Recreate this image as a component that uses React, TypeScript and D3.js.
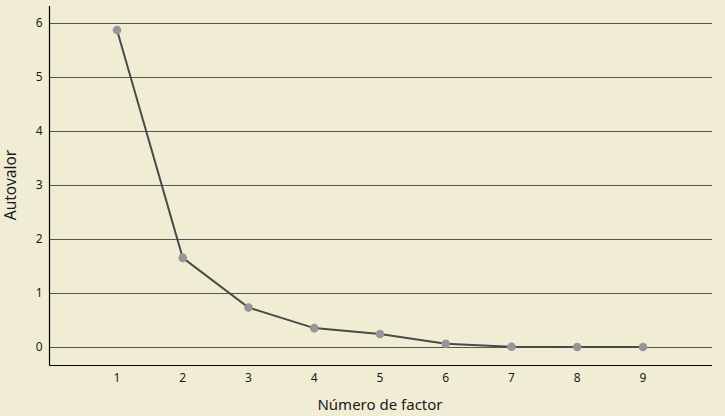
import React, { useEffect, useRef } from "react";
import * as d3 from "d3";

const factors = [1, 2, 3, 4, 5, 6, 7, 8, 9];
const eigenvalues = [5.87, 1.65, 0.73, 0.35, 0.24, 0.06, 0.005, 0.0, 0.0];
const yTicks = [0, 1, 2, 3, 4, 5, 6];
const xTitle = "Número de factor";
const yTitle = "Autovalor";

const W = 725;
const H = 416;

export default function App() {
  const ref = useRef<SVGSVGElement | null>(null);
  useEffect(() => {
    document.body.style.margin = "0";
    const svg = d3.select(ref.current);
    svg.selectAll("*").remove();
    const left = 49.5, right = 712, bottom = 365.5, top = 6;
    const x = d3.scaleLinear().domain([1, 9]).range([117, 643]);
    const y = d3.scaleLinear().domain([0, 6]).range([347, 23]);
    const font = "'Noto Sans', 'Open Sans', sans-serif";

    svg.append("rect").attr("width", W).attr("height", H).attr("fill", "#f1edd5");

    // gridlines
    svg.append("g").selectAll("line").data(yTicks).join("line")
      .attr("x1", left).attr("x2", right)
      .attr("y1", d => Math.round(y(d)) + 0.5).attr("y2", d => Math.round(y(d)) + 0.5)
      .attr("stroke", "#55554f").attr("stroke-width", 1);

    // axes
    svg.append("line").attr("x1", left).attr("x2", left).attr("y1", top).attr("y2", bottom)
      .attr("stroke", "#000").attr("stroke-width", 1.2);
    svg.append("line").attr("x1", left).attr("x2", right).attr("y1", bottom).attr("y2", bottom)
      .attr("stroke", "#000").attr("stroke-width", 1.2);

    // y tick labels
    svg.append("g").selectAll("text").data(yTicks).join("text")
      .attr("x", 42.5).attr("y", d => y(d)).attr("dy", "0.35em")
      .attr("text-anchor", "end").attr("font-family", font).attr("font-size", 12)
      .attr("fill", "#1a1a1a").text(d => d);

    // x tick labels
    svg.append("g").selectAll("text").data(factors).join("text")
      .attr("x", d => x(d)).attr("y", 378).attr("dy", "0.35em")
      .attr("text-anchor", "middle").attr("font-family", font).attr("font-size", 12)
      .attr("fill", "#1a1a1a").text(d => d);

    // line
    const line = d3.line<number>().x((d, i) => x(factors[i])).y(d => y(d));
    svg.append("path").datum(eigenvalues).attr("d", line)
      .attr("fill", "none").attr("stroke", "#4a4a48").attr("stroke-width", 2);

    // dots
    svg.append("g").selectAll("circle").data(eigenvalues).join("circle")
      .attr("cx", (d, i) => x(factors[i])).attr("cy", d => y(d)).attr("r", 4.3)
      .attr("fill", "#96969a");

    // titles
    svg.append("text").attr("x", 380).attr("y", 405).attr("dy", "0.35em")
      .attr("text-anchor", "middle").attr("font-family", font).attr("font-size", 15)
      .attr("fill", "#1a1a1a").text(xTitle);
    svg.append("text").attr("transform", "translate(11,185) rotate(-90)").attr("dy", "0.35em")
      .attr("text-anchor", "middle").attr("font-family", font).attr("font-size", 15.5)
      .attr("fill", "#1a1a1a").text(yTitle);
  }, []);
  return (
    <svg ref={ref} width={W} height={H} style={{ display: "block", position: "absolute", left: 0, top: 0 }} />
  );
}
